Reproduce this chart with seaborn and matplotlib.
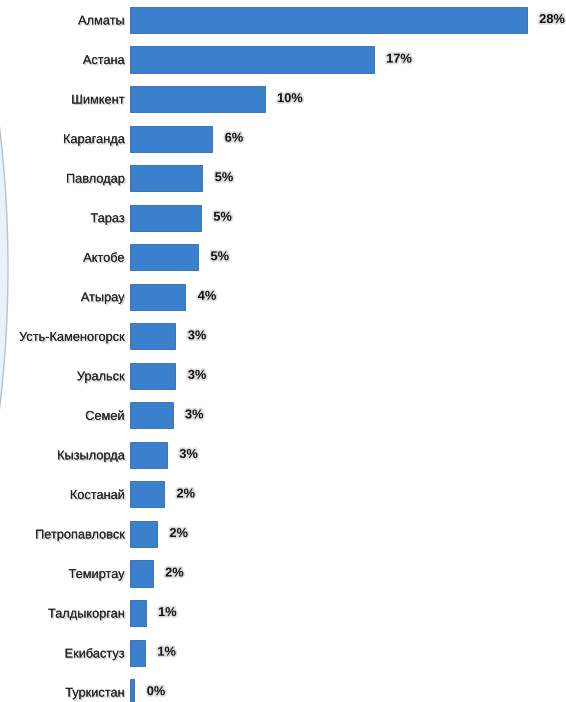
import matplotlib
matplotlib.use("Agg")
import matplotlib.pyplot as plt
import matplotlib.patheffects as pe
from matplotlib.patches import Ellipse
import seaborn as sns
import pandas as pd
from matplotlib import font_manager

cities = ["Алматы", "Астана", "Шимкент", "Караганда", "Павлодар", "Тараз", "Актобе",
          "Атырау", "Усть-Каменогорск", "Уральск", "Семей", "Кызылорда", "Костанай",
          "Петропавловск", "Темиртау", "Талдыкорган", "Екибастуз", "Туркистан"]
values = [28.0, 17.2, 9.5, 5.8, 5.1, 5.0, 4.8, 3.9, 3.2, 3.2, 3.0, 2.6, 2.4, 1.9, 1.6, 1.1, 1.05, 0.3]
labels = ["28%", "17%", "10%", "6%", "5%", "5%", "5%", "4%", "3%", "3%", "3%", "3%", "2%",
          "2%", "2%", "1%", "1%", "0%"]

sns.set_theme(style="white")
names = {f.name for f in font_manager.fontManager.ttflist}
fam = ["Liberation Sans Narrow", "DejaVu Sans"] if "Liberation Sans Narrow" in names else ["Liberation Sans", "DejaVu Sans"]
plt.rcParams["font.family"] = fam

df = pd.DataFrame({"city": cities, "value": values})

fig = plt.figure(figsize=(5.66, 7.02), dpi=100)
# decorative light-blue shape on the left
fig.patches.append(Ellipse((-150 / 566, 1 - 268 / 702), 316 / 566, 870 / 702,
                           transform=fig.transFigure, facecolor="#e6f3fd",
                           edgecolor="#b9c3cc", linewidth=1.0, zorder=0))

ax = fig.add_axes([130 / 566, 0, 418 / 566, 1])
ax.patch.set_alpha(0)
sns.barplot(data=df, y="city", x="value", orient="h", color="#3b80cc",
            width=0.66, edgecolor="#2f68a8", linewidth=0.6, ax=ax, saturation=1)
ax.set_xlim(0, 29.5)
ax.set_ylim(17.25, -0.506)
for s in ax.spines.values():
    s.set_visible(False)
ax.set_xticks([])
ax.set_xlabel("")
ax.set_ylabel("")
ax.tick_params(axis="y", length=0, pad=4, labelsize=9.2)
for t in ax.get_yticklabels():
    t.set_path_effects([pe.withSimplePatchShadow(offset=(1, -1), shadow_rgbFace="#999999", alpha=0.5), pe.Normal()])

for i, (v, lab) in enumerate(zip(values, labels)):
    ax.annotate(lab, (v, i), xytext=(9, 0), textcoords="offset points",
                va="center", ha="left", fontsize=9.2, fontweight="bold", color="#111111",
                path_effects=[pe.withStroke(linewidth=2.5, foreground="#dddddd")])

fig.savefig("out.png", dpi=100)
